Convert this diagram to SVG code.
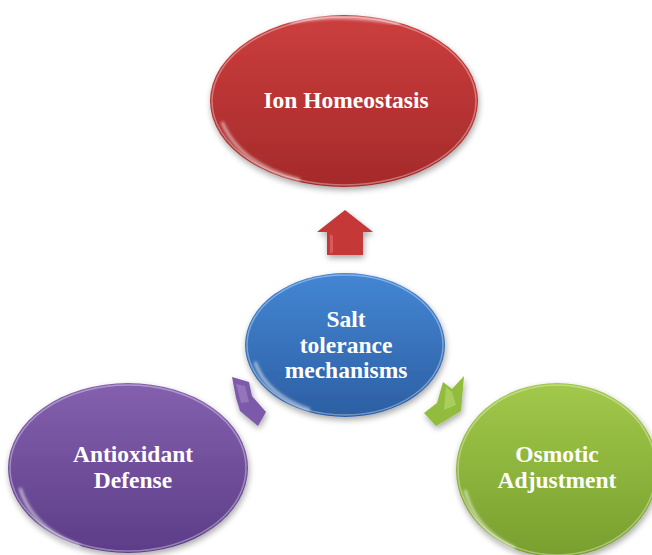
<svg xmlns="http://www.w3.org/2000/svg" width="652" height="555" viewBox="0 0 652 555">
<defs>
<linearGradient id="gRed" x1="0" y1="0" x2="0" y2="1"><stop offset="0" stop-color="#cc3e3e"/><stop offset="1" stop-color="#a52a2a"/></linearGradient>
<linearGradient id="gBlue" x1="0" y1="0" x2="0" y2="1"><stop offset="0" stop-color="#4486d4"/><stop offset="1" stop-color="#2c5fa3"/></linearGradient>
<linearGradient id="gPurple" x1="0" y1="0" x2="0" y2="1"><stop offset="0" stop-color="#8460ae"/><stop offset="1" stop-color="#5c3d88"/></linearGradient>
<linearGradient id="gGreen" x1="0" y1="0" x2="0" y2="1"><stop offset="0" stop-color="#a2c94a"/><stop offset="1" stop-color="#789f2e"/></linearGradient>
<filter id="sh" x="-20%" y="-20%" width="140%" height="140%"><feGaussianBlur in="SourceAlpha" stdDeviation="3"/><feOffset dx="1" dy="3"/><feComponentTransfer><feFuncA type="linear" slope="0.35"/></feComponentTransfer><feMerge><feMergeNode/><feMergeNode in="SourceGraphic"/></feMerge></filter>
<filter id="blur"><feGaussianBlur stdDeviation="1.5"/></filter>
</defs>
<style>
.lbl{font-family:"Liberation Serif","Times New Roman",serif;font-weight:bold;font-size:23.5px;fill:#ffffff;text-anchor:middle}
.hl{fill:none;stroke:#ffffff;stroke-width:3;stroke-opacity:0.6;filter:url(#blur)}
.rim{fill:none;stroke:#ffffff;stroke-opacity:0.35;stroke-width:1.5}
</style>
<g id="connectors">
<polygon id="arrow-red" points="345,210 373,232 363,232 363,255 327,255 327,232 317,232" fill="#c53838" filter="url(#sh)"/>
<polygon points="330,234 333,236 333,252 330,254" fill="#e26a6a" opacity="0.7"/>
<polygon id="arrow-purple" points="232,377 249,382 252,396 266,412 258,426 240,411 236,398" fill="#7d5aa9" filter="url(#sh)"/>
<polygon points="236,384 245,386 249,402 241,403" fill="#a487c8" opacity="0.6"/>
<polygon id="arrow-green" points="464,376 461,411 448,419 436,426 424,413 437,403 443,382 452,389" fill="#92bc3c" filter="url(#sh)"/>
<polygon points="446,387 452,392 456,405 444,410" fill="#b9da74" opacity="0.6"/>
</g>
<g id="node-ion">
<ellipse cx="344" cy="101" rx="134" ry="86" fill="url(#gRed)" filter="url(#sh)"/>
<ellipse cx="344" cy="101" rx="132" ry="84" class="rim"/>
<path class="hl" d="M222,122 Q240,165 300,180"/>
<path class="hl" d="M290,22 Q344,12 400,24" stroke-opacity="0.3"/>
<text class="lbl" x="346" y="108">Ion Homeostasis</text>
</g>
<g id="node-salt">
<ellipse cx="345" cy="345" rx="100" ry="72" fill="url(#gBlue)" filter="url(#sh)"/>
<ellipse cx="345" cy="345" rx="98" ry="70" class="rim"/>
<path class="hl" d="M255,362 Q266,395 310,410"/>
<text class="lbl" x="346" y="327">Salt</text>
<text class="lbl" x="346" y="353">tolerance</text>
<text class="lbl" x="346" y="378">mechanisms</text>
</g>
<g id="node-antioxidant">
<ellipse cx="128" cy="468" rx="120" ry="85" fill="url(#gPurple)" filter="url(#sh)"/>
<ellipse cx="128" cy="468" rx="118" ry="83" class="rim"/>
<path class="hl" d="M20,488 Q32,528 80,546"/>
<text class="lbl" x="133" y="462">Antioxidant</text>
<text class="lbl" x="133" y="488">Defense</text>
</g>
<g id="node-osmotic">
<ellipse cx="557" cy="470" rx="101" ry="87" fill="url(#gGreen)" filter="url(#sh)"/>
<ellipse cx="557" cy="470" rx="99" ry="85" class="rim"/>
<path class="hl" d="M465,490 Q475,530 515,548"/>
<text class="lbl" x="557" y="462">Osmotic</text>
<text class="lbl" x="557" y="488">Adjustment</text>
</g>
</svg>
